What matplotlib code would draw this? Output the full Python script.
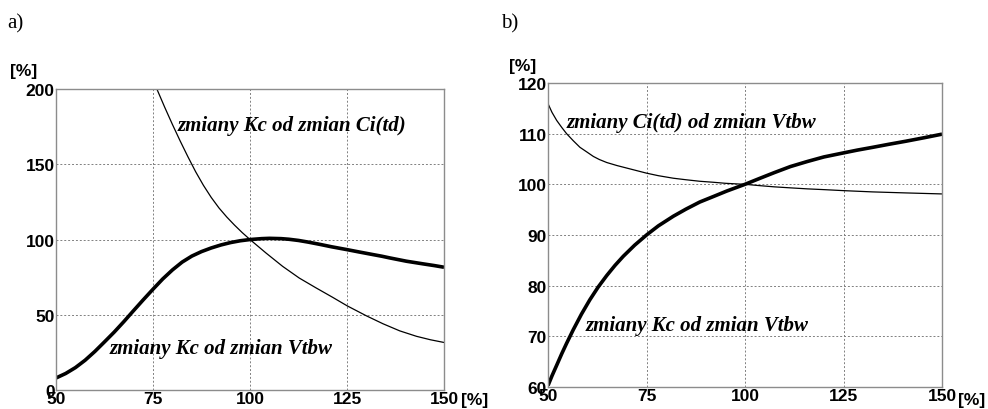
import matplotlib
matplotlib.use("Agg")
import matplotlib.pyplot as plt

# a) zmiany Kc od zmian Ci(td)  (thin)
a_ci_x = [76, 78, 80, 82, 84, 86, 88, 90, 92, 94, 96, 98, 100, 104.1, 108.4, 112.7, 117,
          121.3, 125, 130, 134.3, 138.6, 142.9, 146.5, 150]
a_ci_y = [200, 188, 176.5, 165.5, 155, 145, 136, 128, 121, 115, 109.6, 104.6, 100, 91.1, 82.2,
          74.4, 67.9, 61.6, 56.0, 49.3, 44.0, 39.3, 35.7, 33.4, 31.6]
# a) zmiany Kc od zmian Vtbw  (thick)
a_kc_x = [50, 52.5, 55, 57.5, 60, 62.5, 65, 67.5, 70, 72.5, 75, 77.5, 80, 82.5, 85, 87.5, 90,
          92.5, 95, 97.5, 100, 103, 105, 108, 110, 112.5, 115, 118, 121, 125, 128,
          131.7, 134, 136, 140.3, 142.5, 144.7, 147.5, 150]
a_kc_y = [8, 11, 14.9, 19.8, 25.6, 32, 38.5, 45.5, 52.8, 60, 67, 73.8, 79.8, 85, 89, 92, 94.4,
          96.4, 98, 99.2, 100, 100.6, 100.8, 100.6, 100.2, 99.4, 98.3, 96.8, 95.2, 93.3, 91.8,
          90, 88.9, 87.8, 85.6, 84.7, 83.8, 82.7, 81.6]

# b) zmiany Ci(td) od zmian Vtbw  (thin)
b_ci_x = [50, 51, 52.2, 53.5, 54.7, 56.4, 58.1, 60, 61.5, 63, 64.9, 67.5, 70, 72.5, 75, 78,
          81.8, 85, 88.5, 92, 95, 98.6, 100, 103.5, 107.4, 111.5, 115.8, 120, 125, 132.4,
          140.8, 150]
b_ci_y = [115.9, 114.2, 112.6, 111.2, 110, 108.6, 107.3, 106.3, 105.5, 104.9, 104.3, 103.7,
          103.2, 102.7, 102.2, 101.7, 101.2, 100.9, 100.6, 100.4, 100.2, 100.05, 100, 99.75,
          99.5, 99.3, 99.1, 98.95, 98.75, 98.5, 98.3, 98.1]
# b) zmiany Kc od zmian Vtbw  (thick)
b_kc_x = [50, 51, 52.2, 53.5, 54.7, 56.4, 58.5, 60.6, 62.7, 64.9, 67, 69.1, 72, 75, 78, 81.8,
          85, 88.5, 92, 95.3, 98.6, 100, 103.5, 107.4, 111.5, 115.8, 120, 125, 128.5, 132.4,
          136.5, 140.8, 145.5, 150]
b_kc_y = [60.3, 62.2, 64.3, 66.6, 68.6, 71.3, 74.4, 77.2, 79.7, 82.0, 84.0, 85.8, 88.0, 90.0,
          91.8, 93.7, 95.1, 96.5, 97.6, 98.65, 99.6, 100, 101.1, 102.3, 103.5, 104.5, 105.4,
          106.2, 106.75, 107.3, 107.9, 108.5, 109.2, 109.9]

x_ticks = [50, 75, 100, 125, 150]
a_y_ticks = [0, 50, 100, 150, 200]
b_y_ticks = [60, 70, 80, 90, 100, 110, 120]

fig = plt.figure(figsize=(9.88, 4.10), dpi=100)
ax1 = fig.add_axes([0.0567, 0.0463, 0.3927, 0.734])
ax2 = fig.add_axes([0.5547, 0.0537, 0.3988, 0.7415])

tick_font = dict(family="Liberation Sans", weight="bold", size=12.5)
note_font = dict(family="Liberation Serif", weight="bold", style="italic", size=15)


def style(ax, yticks):
    ax.set_xlim(50, 150)
    ax.set_ylim(yticks[0], yticks[-1])
    ax.set_xticks(x_ticks)
    ax.set_yticks(yticks)
    ax.set_xticklabels([str(t) for t in x_ticks], fontdict=tick_font)
    ax.set_yticklabels([str(t) for t in yticks], fontdict=tick_font)
    ax.tick_params(length=0, pad=1)
    ax.grid(True, color="#808080", linestyle=(0, (2, 2)), linewidth=0.7)
    for s in ax.spines.values():
        s.set_color("#8c8c8c")
        s.set_linewidth(1.0)


style(ax1, a_y_ticks)
ax1.plot(a_ci_x, a_ci_y, color="black", linewidth=0.9)
ax1.plot(a_kc_x, a_kc_y, color="black", linewidth=2.6, solid_capstyle="butt")
ax1.text(81.4, 176, "zmiany Kc od zmian Ci(td)", fontdict=note_font, va="center")
ax1.text(63.9, 28, "zmiany Kc od zmian Vtbw", fontdict=note_font, va="center")

style(ax2, b_y_ticks)
ax2.plot(b_ci_x, b_ci_y, color="black", linewidth=0.9)
ax2.plot(b_kc_x, b_kc_y, color="black", linewidth=2.6, solid_capstyle="butt")
ax2.text(54.8, 112.2, "zmiany Ci(td) od zmian Vtbw", fontdict=note_font, va="center")
ax2.text(59.6, 72.2, "zmiany Kc od zmian Vtbw", fontdict=note_font, va="center")

fig.text(7 / 988, 1 - 24 / 410, "a)", family="Liberation Serif", size=15, va="center")
fig.text(501 / 988, 1 - 24 / 410, "b)", family="Liberation Serif", size=15, va="center")
fig.text(10 / 988, 1 - 72 / 410, "[%]", fontdict=tick_font, va="center")
fig.text(509 / 988, 1 - 66 / 410, "[%]", fontdict=tick_font, va="center")
fig.text(461 / 988, 1 - 401 / 410, "[%]", fontdict=tick_font, va="center")
fig.text(958 / 988, 1 - 401 / 410, "[%]", fontdict=tick_font, va="center")

fig.savefig("out.png", dpi=100)
